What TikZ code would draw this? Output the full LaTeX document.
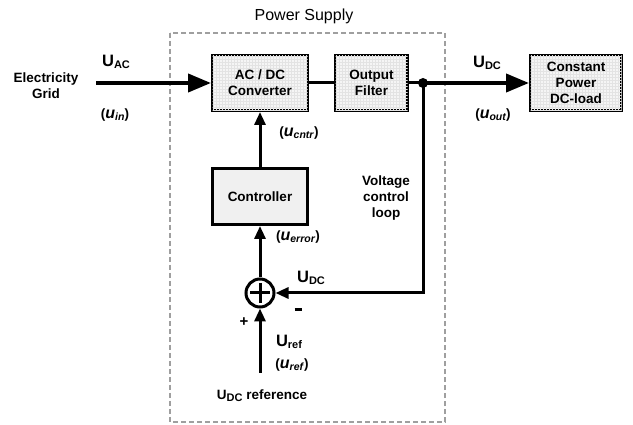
\documentclass[tikz,border=0pt]{standalone}
\usepackage{fontspec}
\setmainfont{Liberation Sans}
\usetikzlibrary{arrows.meta,patterns,calc}
\newcommand\sbs[1]{\raisebox{-0.3ex}{\fontsize{11}{11}\selectfont #1}}
\newcommand\ui[1]{(\textit{\fontsize{16}{16}\selectfont u}\raisebox{-0.3ex}{\fontsize{10.5}{10.5}\selectfont\textit{#1}})}
\begin{document}
\begin{tikzpicture}[x=1pt,y=-1pt,
  blk/.style={draw=black,line width=3pt,fill=gray!8,minimum width=#1,minimum height=55pt,inner sep=0pt,align=center,font=\bfseries\fontsize{13.5}{16}\selectfont},
  grd/.style={postaction={pattern=grid,pattern color=gray!22}},
  lbl/.style={inner sep=0pt,align=center,font=\bfseries\fontsize{13.5}{16}\selectfont},
  big/.style={inner sep=0pt,font=\bfseries\fontsize{16.5}{18}\selectfont},
  conn/.style={line width=3pt},
  mainarr/.style={line width=4pt,-{Triangle[length=23pt,width=18pt]}},
  arr/.style={line width=3pt,-{Triangle[length=13pt,width=11pt]}}]
\useasboundingbox (0,0) rectangle (633,425);
% dashed frame
\draw[draw=gray!75,line width=2.5pt,dash pattern=on 5pt off 3pt] (170,33) rectangle (445,422);
\node[inner sep=0pt,font=\fontsize{16}{18}\selectfont] (ps) at (304,16) {Power Supply};
% blocks
\node[blk=95pt,grd] (acdc) at (260,83) {AC / DC\\Converter};
\node[blk=72pt,grd] (filt) at (371.5,83) {Output\\Filter};
\node[blk=91pt,grd] (load) at (576,83) {Constant\\Power\\DC-load};
\node[blk=95pt,fill=gray!12,minimum height=56pt] (ctrl) at (260,196.5) {Controller};
\node[draw=black,line width=3pt,circle,minimum size=28pt,inner sep=0pt] (sum) at (260,293) {};
\draw[line width=3pt] ($(sum.center)+(-10,0)$) -- ++(20,0);
\draw[line width=3pt] ($(sum.center)+(0,-10)$) -- ++(0,20);
\fill (423,83) circle (5pt);
\coordinate (junc) at (423,83);
\coordinate (fbc) at (423,293);
\coordinate (gin) at (96,83);
\coordinate (refin) at (260,373);
% text
\node[lbl] (grid) at (46,86) {Electricity\\Grid};
\node[big] (uac) at (116,62) {U\sbs{AC}};
\node[lbl] (uin) at (115,115) {\ui{in}};
\node[big] (udc) at (487,63) {U\sbs{DC}};
\node[lbl] (uout) at (493,115) {\ui{out}};
\node[lbl] (ucntr) at (299,133) {\ui{cntr}};
\node[lbl] (vcl) at (386,198) {Voltage\\control\\loop};
\node[lbl] (uerr) at (298,237) {\ui{error}};
\node[big] (udc2) at (311,278) {U\sbs{DC}};
\node[inner sep=0pt] (minus) at (298,309) {\rule{7pt}{3pt}};
\node[lbl,font=\bfseries\fontsize{15}{16}\selectfont] (plus) at (244,322) {+};
\node[big] (uref) at (289,342) {U\sbs{ref}};
\node[lbl] (urefi) at (292,365) {\ui{ref}};
\node[lbl] (udcref) at (262,396) {U\sbs{DC} reference};
% connectors
\draw[mainarr] (gin) -- (acdc.west);
\draw[conn] (acdc.east) -- (filt.west);
\draw[conn] (filt.east) -- (junc);
\draw[mainarr] (junc) -- (load.west);
\draw[arr] (ctrl.north) -- (acdc.south);
\draw[arr] (sum.north) -- (ctrl.south);
\draw[arr] (junc) -- (fbc) -- (sum.east);
\draw[arr] (refin) -- (sum.south);
\end{tikzpicture}
\end{document}
